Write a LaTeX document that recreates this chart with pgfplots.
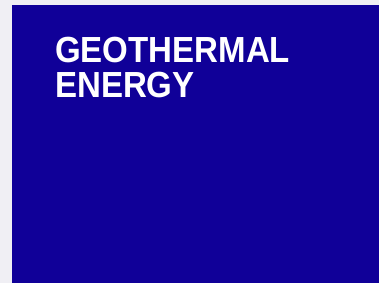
\documentclass[border=0pt]{standalone}
\usepackage{pgfplots}
\pgfplotsset{compat=1.18}
\usepackage{fontspec}
\setmainfont{Liberation Sans}
\definecolor{bgray}{RGB}{240,239,244}
\definecolor{geoblue}{RGB}{16,0,152}
\begin{document}
\begin{tikzpicture}[x=1pt,y=1pt]
\fill[bgray] (0,0) rectangle (379,283);
\begin{axis}[at={(12pt,0pt)}, anchor=south west, width=367pt, height=278pt, scale only axis,
  xmin=0, xmax=1, ymin=0, ymax=1, axis lines=none, ticks=none, clip=false]
\addplot[fill=geoblue, draw=none] coordinates {(0,0) (1,0) (1,1) (0,1)} -- cycle;
\end{axis}
\node[anchor=base west, inner sep=0pt, text=white, font=\fontsize{36.3}{40}\selectfont\bfseries] at (55,220) {\scalebox{0.91}[1]{GEOTHERMAL}};
\node[anchor=base west, inner sep=0pt, text=white, font=\fontsize{36.3}{40}\selectfont\bfseries] at (55,185) {\scalebox{0.91}[1]{ENERGY}};
\end{tikzpicture}
\end{document}
